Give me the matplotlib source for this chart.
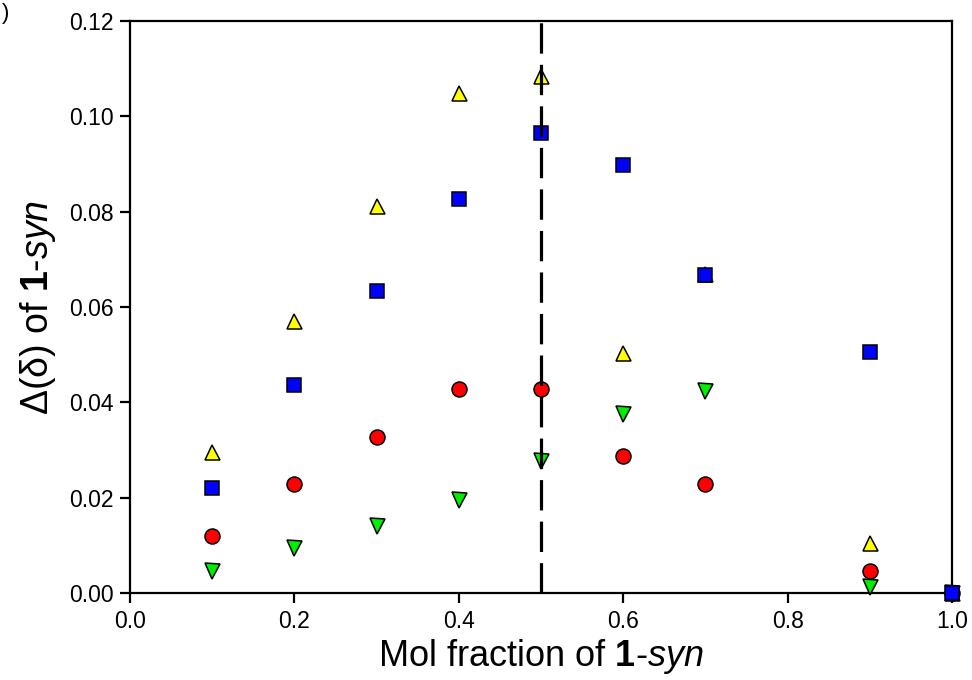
import matplotlib
matplotlib.use("Agg")
import matplotlib.pyplot as plt

plt.rcParams['font.family'] = ['Liberation Sans', 'DejaVu Sans']
plt.rcParams['mathtext.fontset'] = 'custom'
plt.rcParams['mathtext.rm'] = 'Liberation Sans'
plt.rcParams['mathtext.it'] = 'Liberation Sans:italic'
plt.rcParams['mathtext.bf'] = 'Liberation Sans:bold'

x_vals = [0.1, 0.2, 0.3, 0.4, 0.5, 0.6, 0.7, 0.9, 1.0]
yellow_up = [0.0296, 0.0570, 0.0812, 0.1050, 0.1085, 0.0504, 0.0670, 0.0104, 0.0]
green_down = [0.0047, 0.0094, 0.0141, 0.0195, 0.0277, 0.0376, 0.0423, 0.0013, 0.0]
red_circle = [0.0120, 0.0229, 0.0327, 0.0427, 0.0429, 0.0287, 0.0229, 0.0047, 0.0]
blue_square = [0.0221, 0.0436, 0.0633, 0.0827, 0.0966, 0.0897, 0.0668, 0.0505, 0.0]

x_ticks = [0.0, 0.2, 0.4, 0.6, 0.8, 1.0]
y_ticks = [0.00, 0.02, 0.04, 0.06, 0.08, 0.10, 0.12]
job_x = 0.5

fig = plt.figure(figsize=(9.72, 6.8), dpi=100)
ax = fig.add_axes([130/972, (680-593)/680, (952-130)/972, (593-21)/680])

common = dict(linestyle='none', markeredgecolor='black', markeredgewidth=1.1, clip_on=False)
ax.plot(x_vals, yellow_up, marker='^', markersize=10.8, markerfacecolor='#ffff00', zorder=3, **common)
ax.plot(x_vals, green_down, marker='v', markersize=10.8, markerfacecolor='#00ee00', zorder=3, **common)
ax.plot(x_vals, red_circle, marker='o', markersize=10.8, markerfacecolor='#ff0000', zorder=3, **common)
ax.plot(x_vals, blue_square, marker='s', markersize=9.6, markerfacecolor='#0000ff', zorder=4, **common)

ax.plot([job_x, job_x], [0, 0.12], color='black', linewidth=2.3, dashes=(9.5, 3.5), zorder=5)

ax.set_xlim(0, 1.0)
ax.set_ylim(0, 0.12)
ax.set_xticks(x_ticks)
ax.set_yticks(y_ticks)
ax.set_xticklabels([f"{v:.1f}" for v in x_ticks])
ax.set_yticklabels([f"{v:.2f}" for v in y_ticks])

for s in ax.spines.values():
    s.set_linewidth(1.6)
    s.set_zorder(2)
ax.tick_params(direction='out', length=7, width=1.6, labelsize=16.5, top=False, right=False, pad=5)

ax.set_xlabel(r"Mol fraction of $\mathbf{1}$-$\mathit{syn}$", fontsize=26, labelpad=3)
ax.set_ylabel("Δ(δ) of " + r"$\mathbf{1}$-$\mathit{syn}$", fontsize=27, labelpad=8)

fig.text(0.002, 0.995, ")", fontsize=16, ha='left', va='top')

fig.savefig("out.png", dpi=100)
